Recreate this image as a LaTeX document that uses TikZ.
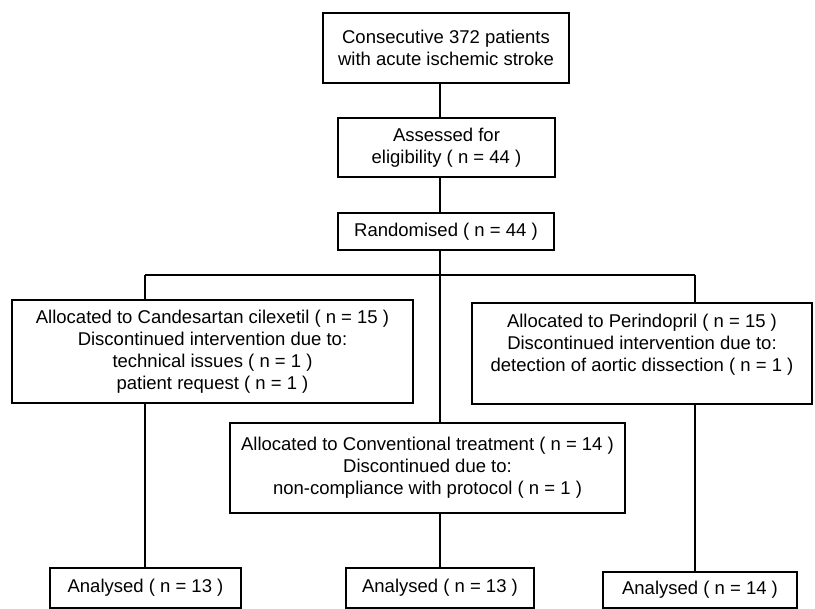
\documentclass[tikz,border=0pt]{standalone}
\usepackage{fontspec}
\setmainfont{Liberation Sans}
\begin{document}
\begin{tikzpicture}[x = 1pt, y = -1pt, line width = 1.1pt,
  box/.style = {draw, align = center, inner sep = 0pt, font = \fontsize{18.5}{22}\selectfont}]
\useasboundingbox (0,0) rectangle (815,609);
\node[box, minimum width = 246, minimum height = 70] at (446,48) (cons) {Consecutive 372 patients\\with acute ischemic stroke};
\node[box, minimum width = 217, minimum height = 59] at (446.5,147.5) (elig) {Assessed for\\eligibility ( n = 44 )};
\node[box, minimum width = 216, minimum height = 37] at (446,231.5) (rand) {Randomised ( n = 44 )};
\node[box, minimum width = 401, minimum height = 103] at (212.5,351.5) (cand) {Allocated to Candesartan cilexetil ( n = 15 )\\Discontinued intervention due to:\\technical issues ( n = 1 )\\patient request ( n = 1 )};
\node[box, minimum width = 340, minimum height = 101] at (642,353.5) (peri) {Allocated to Perindopril ( n = 15 )\\Discontinued intervention due to:\\detection of aortic dissection ( n = 1 )\\\mbox{}};
\node[box, minimum width = 395, minimum height = 90] at (427.5,468) (conv) {Allocated to Conventional treatment ( n = 14 )\\Discontinued due to:\\non-compliance with protocol ( n = 1 )};
\node[box, minimum width = 191, minimum height = 40] at (145.5,588) (an1) {Analysed ( n = 13 )};
\node[box, minimum width = 188, minimum height = 40] at (440,588) (an2) {Analysed ( n = 13 )};
\node[box, minimum width = 194, minimum height = 36] at (700,590) (an3) {Analysed ( n = 14 )};
\coordinate (trunk) at (440,275);
\coordinate (lsplit) at (145,275);
\coordinate (rsplit) at (695,275);
\draw (trunk |- cons.south) -- (trunk |- elig.north);
\draw (trunk |- elig.south) -- (trunk |- rand.north);
\draw (trunk |- rand.south) -- (trunk |- conv.north);
\draw (lsplit) -- (rsplit);
\draw (lsplit) -- (lsplit |- cand.north);
\draw (rsplit) -- (rsplit |- peri.north);
\draw (lsplit |- cand.south) -- (lsplit |- an1.north);
\draw (trunk |- conv.south) -- (trunk |- an2.north);
\draw (rsplit |- peri.south) -- (rsplit |- an3.north);
\end{tikzpicture}
\end{document}
